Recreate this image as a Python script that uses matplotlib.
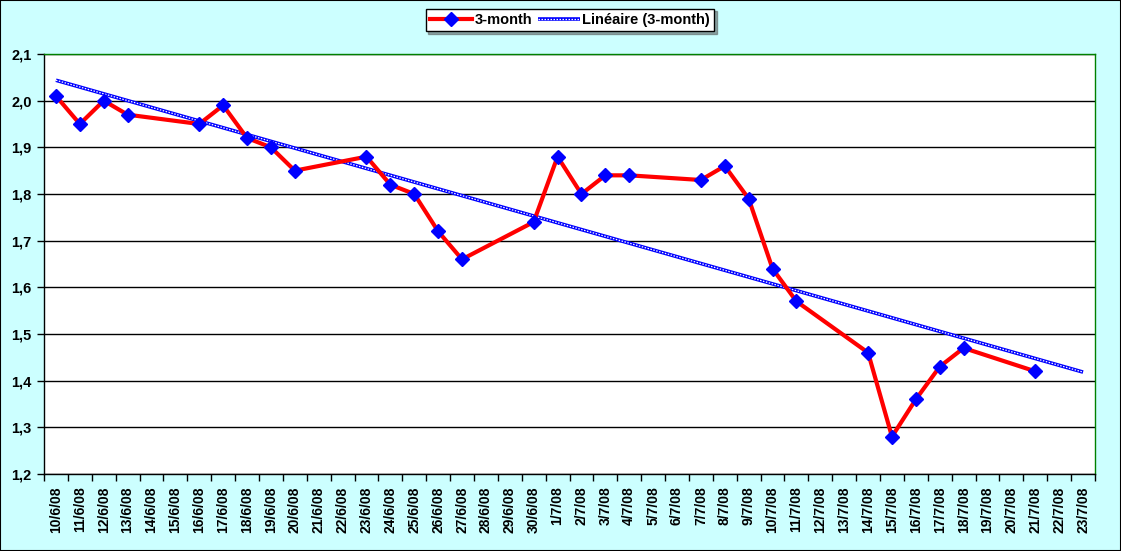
import numpy as np
import pandas as pd
import matplotlib
matplotlib.use("Agg")
import matplotlib.pyplot as plt
from matplotlib.ticker import FuncFormatter, FixedLocator
from matplotlib.patches import Rectangle

# observed 3-month values (trading days only)
dates = ['10/6/08', '11/6/08', '12/6/08', '13/6/08', '16/6/08', '17/6/08',
         '18/6/08', '19/6/08', '20/6/08', '23/6/08', '24/6/08', '25/6/08',
         '26/6/08', '27/6/08', '30/6/08', '1/7/08', '2/7/08', '3/7/08',
         '4/7/08', '7/7/08', '8/7/08', '9/7/08', '10/7/08', '11/7/08',
         '14/7/08', '15/7/08', '16/7/08', '17/7/08', '18/7/08', '21/7/08']
values = [2.01, 1.95, 2.00, 1.97, 1.95, 1.99,
          1.92, 1.90, 1.85, 1.88, 1.82, 1.80,
          1.72, 1.66, 1.74, 1.88, 1.80, 1.84,
          1.84, 1.83, 1.86, 1.79, 1.64, 1.57,
          1.46, 1.28, 1.36, 1.43, 1.47, 1.42]

axis_start = '10/6/08'
axis_end = '23/7/08'
y_ticks = [1.2, 1.3, 1.4, 1.5, 1.6, 1.7, 1.8, 1.9, 2.0, 2.1]

d = pd.to_datetime(dates, format='%d/%m/%y')
d0 = pd.to_datetime(axis_start, format='%d/%m/%y')
d1 = pd.to_datetime(axis_end, format='%d/%m/%y')
x = np.array((d - d0).days, dtype=float)
n_days = (d1 - d0).days + 1
all_days = pd.date_range(d0, d1, freq='D')
day_labels = [f"{t.day}/{t.month}/{t.strftime('%y')}" for t in all_days]

# linear trend (Excel-like), forecast forward to end of axis
coef = np.polyfit(x, values, 1)
xt = np.array([0, n_days - 1], dtype=float)
yt = np.polyval(coef, xt)

plt.rcParams['font.family'] = ['Liberation Sans', 'DejaVu Sans']
plt.rcParams['font.weight'] = 'bold'

fig = plt.figure(figsize=(11.21, 5.51), dpi=100, facecolor='#CCFFFF')
ax = fig.add_axes([44 / 1121, 1 - 474 / 551, (1095 - 44) / 1121, (474 - 54) / 551])
ax.set_facecolor('white')

# trend line: blue with white dots inside
tl1, = ax.plot(xt, yt, color='#0000FF', lw=2.6, zorder=3, solid_capstyle='butt')
tl2, = ax.plot(xt, yt, color='white', lw=0.9, ls=(0, (1.2, 1.2)), zorder=3.1)

ln, = ax.plot(x, values, color='#FF0000', lw=3, marker='D', markersize=7.5,
              markerfacecolor='#0000FF', markeredgecolor='#0000FF', zorder=4)

ax.set_xlim(-0.5, n_days - 0.5)
ax.set_ylim(1.2, 2.1)

ax.set_yticks(y_ticks)
ax.yaxis.set_major_formatter(FuncFormatter(lambda v, p: f"{v:.1f}".replace('.', ',')))
ax.grid(axis='y', color='black', lw=1)
ax.set_axisbelow(True)

ax.set_xticks(np.arange(n_days))
ax.set_xticklabels(day_labels, rotation=90)
ax.xaxis.set_minor_locator(FixedLocator(np.arange(n_days + 1) - 0.5))
ax.tick_params(axis='x', which='major', length=0, pad=9, labelsize=10)
ax.tick_params(axis='x', which='minor', length=5, width=1, direction='out')
ax.tick_params(axis='y', length=5, width=1, direction='out', labelsize=10.5, pad=4)

for s in ['left', 'bottom']:
    ax.spines[s].set_color('black')
    ax.spines[s].set_linewidth(1)
for s in ['top', 'right']:
    ax.spines[s].set_color('#008000')
    ax.spines[s].set_linewidth(1)

leg = fig.legend([ln, (tl1, tl2)], ['3-month', 'Linéaire (3-month)'],
                 loc='center', bbox_to_anchor=(570 / 1121, 1 - 20 / 551),
                 ncol=2, frameon=True, fancybox=False, shadow=True,
                 edgecolor='black', framealpha=1, fontsize=10.5,
                 handlelength=2.9, handletextpad=0.15, columnspacing=0.4,
                 borderpad=0.3, borderaxespad=0)
leg.get_frame().set_linewidth(1)

fig.patches.append(Rectangle((0, 0), 1, 1, transform=fig.transFigure,
                             fill=False, edgecolor='black', lw=1.5))

fig.savefig('out.png', dpi=100, facecolor=fig.get_facecolor())
